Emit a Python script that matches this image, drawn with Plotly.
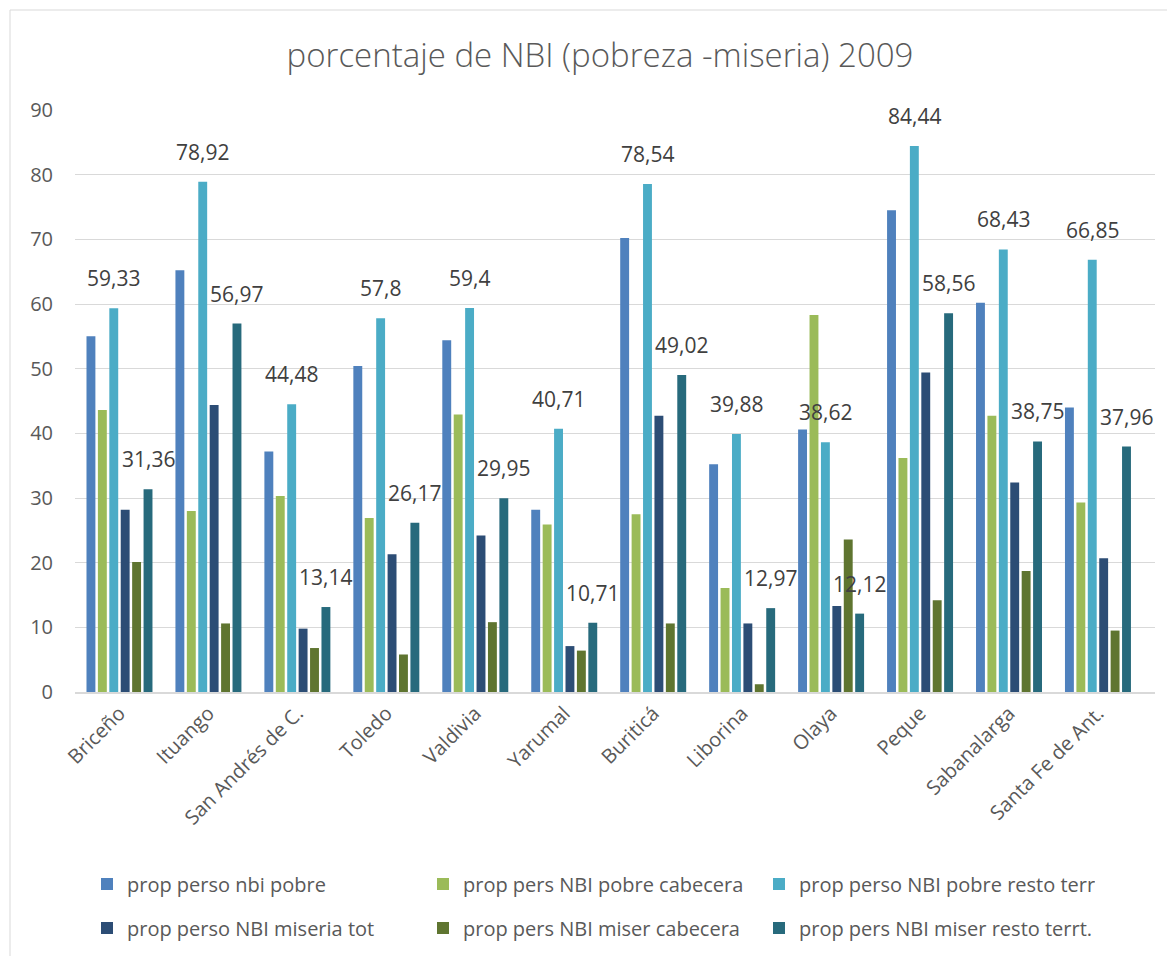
import plotly.graph_objects as go

# ── Datos ─────────────────────────────────────────────────────────────────────
municipios = [
    "Briceño", "Ituango", "San Andrés de C.", "Toledo", "Valdivia", "Yarumal",
    "Buriticá", "Liborina", "Olaya", "Peque", "Sabanalarga", "Santa Fe de Ant.",
]

nbi_pobre = [55.0, 65.2, 37.2, 50.4, 54.4, 28.2, 70.2, 35.2, 40.6, 74.5, 60.2, 44.0]
pobre_cabecera = [43.6, 28.0, 30.3, 26.9, 42.9, 25.9, 27.5, 16.1, 58.3, 36.2, 42.7, 29.3]
pobre_resto = [59.33, 78.92, 44.48, 57.8, 59.4, 40.71, 78.54, 39.88, 38.62, 84.44, 68.43, 66.85]
miseria_tot = [28.2, 44.4, 9.8, 21.3, 24.2, 7.1, 42.7, 10.6, 13.3, 49.4, 32.4, 20.7]
miser_cabecera = [20.1, 10.6, 6.8, 5.8, 10.8, 6.4, 10.6, 1.2, 23.6, 14.2, 18.7, 9.5]
miser_resto = [31.36, 56.97, 13.14, 26.17, 29.95, 10.71, 49.02, 12.97, 12.12, 58.56, 38.75, 37.96]

series = [
    ("prop perso nbi pobre", nbi_pobre, "#4F81BD", False, "legend"),
    ("prop pers NBI pobre cabecera", pobre_cabecera, "#9BBB59", False, "legend"),
    ("prop perso NBI pobre resto terr", pobre_resto, "#4BACC6", True, "legend"),
    ("prop perso NBI miseria tot", miseria_tot, "#2C4D75", False, "legend2"),
    ("prop pers NBI miser cabecera", miser_cabecera, "#5F7530", False, "legend2"),
    ("prop pers NBI miser resto terrt.", miser_resto, "#276A7C", True, "legend2"),
]


def _fmt(v: float) -> str:
    """59.33 -> '59,33' (coma decimal)."""
    return f"{v:g}".replace(".", ",")


# ── Geometría (px de la página; el body del html añade 8 px) ─────────────────
W, H = 1175, 956
OFF = 8
L, T = 75 - OFF, 110 - OFF
pw, ph = 1080, 582
R, B = W - L - pw, H - T - ph
BARGAP = 0.23
N = len(series)


def px_x(p):
    return (p - OFF - L) / pw


def px_y(p):
    return (T + ph - (p - OFF)) / ph


fig = go.Figure()
for k, (name, vals, color, labels, leg) in enumerate(series):
    fig.add_trace(go.Bar(
        x=municipios,
        y=vals,
        name=name,
        marker_color=color,
        marker_line_width=0,
        legend=leg,
    ))
    if labels:
        # etiquetas de datos sobre la barra correspondiente del grupo
        off = (k - (N - 1) / 2) * (1 - BARGAP) / N
        for i, v in enumerate(vals):
            fig.add_annotation(
                x=i + off, y=v, xref="x", yref="y",
                text=_fmt(v), showarrow=False,
                yanchor="bottom", yshift=14,
                font=dict(size=21, color="#404040"),
            )

# marco exterior del gráfico
fig.add_shape(
    type="rect", xref="paper", yref="paper",
    x0=px_x(10), x1=px_x(W + 20),
    y0=px_y(H + 20), y1=px_y(10),
    line=dict(color="#D9D9D9", width=1), fillcolor="rgba(0,0,0,0)",
    layer="below",
)

legend_common = dict(
    orientation="h", x=px_x(87), xanchor="left", yanchor="middle",
    entrywidth=291, entrywidthmode="pixels",
    font=dict(size=20, color="#595959"),
    itemwidth=30, bgcolor="rgba(0,0,0,0)",
)

fig.update_layout(
    width=W, height=H,
    margin=dict(l=L, r=R, t=T, b=B),
    paper_bgcolor="white", plot_bgcolor="white",
    font=dict(family="Open Sans", color="#595959", size=20),
    title=dict(
        text="porcentaje de NBI (pobreza -miseria) 2009",
        x=px_x(600), xref="paper", xanchor="center",
        y=1 - (55 - OFF) / H, yanchor="middle",
        font=dict(size=33, color="#595959", family="Open Sans", weight=300),
    ),
    barmode="group",
    bargap=BARGAP,
    bargroupgap=0.22,
    showlegend=True,
    legend=dict(y=px_y(884), **legend_common),
    legend2=dict(y=px_y(928), **legend_common),
    xaxis=dict(
        tickangle=-45,
        tickfont=dict(size=20, color="#595959"),
        showline=True, linecolor="#D9D9D9", linewidth=1.5,
        ticks="", automargin=False,
    ),
    yaxis=dict(
        range=[0, 90], dtick=10,
        gridcolor="#D9D9D9", gridwidth=1,
        zeroline=False, automargin=False,
        tickfont=dict(size=20, color="#595959"),
        ticklabelstandoff=21,
    ),
)

fig.write_html("out.html")
